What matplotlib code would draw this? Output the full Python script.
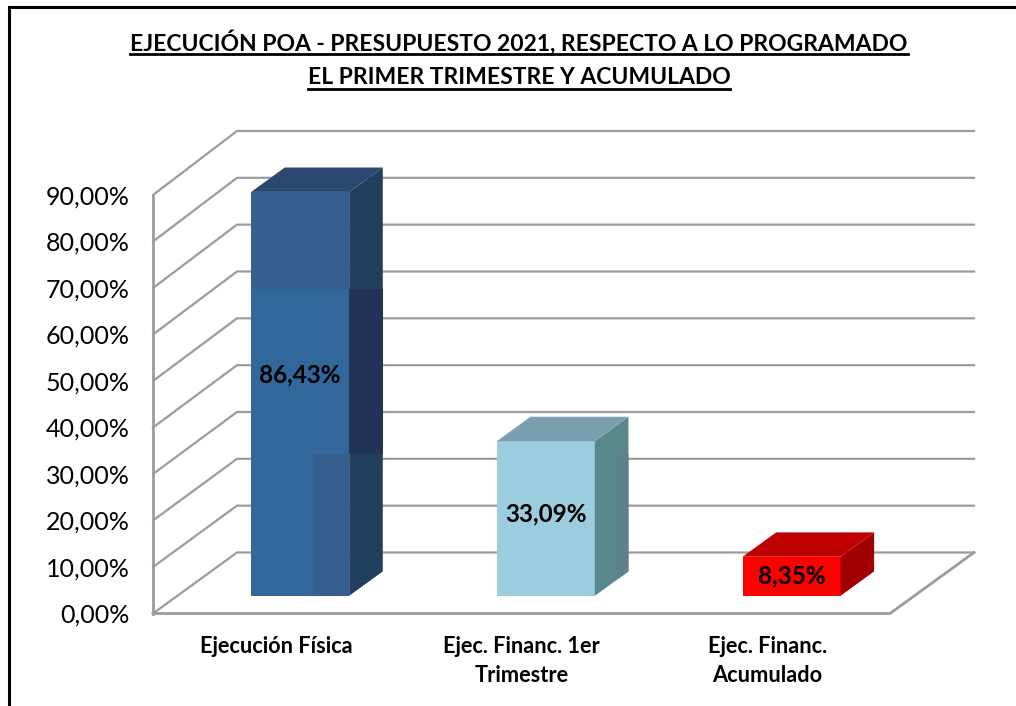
import matplotlib
matplotlib.use("Agg")
import matplotlib.pyplot as plt
from matplotlib.lines import Line2D
from matplotlib.patches import Polygon, Rectangle

plt.rcParams['font.family'] = ['Lato', 'DejaVu Sans']

categories = ["Ejecución Física", "Ejec. Financ. 1er\nTrimestre", "Ejec. Financ.\nAcumulado"]
values = [86.43, 33.09, 8.35]
value_labels = ["86,43%", "33,09%", "8,35%"]
grid_values = [0, 10, 20, 30, 40, 50, 60, 70, 80, 90]
tick_labels = ["0,00%", "10,00%", "20,00%", "30,00%", "40,00%", "50,00%", "60,00%", "70,00%", "80,00%", "90,00%"]
title_lines = ["EJECUCIÓN POA - PRESUPUESTO 2021, RESPECTO A LO PROGRAMADO",
               "EL PRIMER TRIMESTRE Y ACUMULADO"]

front_colors = ["#31679a", "#9bcddf", "#fe0000"]
top_colors = ["#2b4870", "#7a9fb0", "#bf0000"]
side_colors = ["#223f5e", "#58888c", "#a00000"]

# the bars have bands of a different shade in the picture
band_low = 30.4
band_high = 65.7
band_split = 0.63
upper_front = "#355f8f"
middle_side = "#233358"
second_side = "#5f808c"
second_side_top = 30.2
second_side_depth = 0.564

GRID = "#9c9c9c"
FIG_W, FIG_H = 1016, 706

# oblique projection of the depth axis, in data units
DX = 84 / 245.67
DY = 61 / 4.65
BAR_W = 98 / 245.67
D0, D1 = 0.29, 0.69
BACK_STRETCH = 1.0072
BAR_STRETCH = 1.005


def px_rect(x0, y_top, x1, y_bottom):
    return [x0 / FIG_W, 1 - y_bottom / FIG_H, (x1 - x0) / FIG_W, (y_bottom - y_top) / FIG_H]


def add_poly(ax, points, color, zorder=4):
    ax.add_patch(Polygon(points, fc=color, ec="none", zorder=zorder, clip_on=False))


def bar_y(y, depth):
    return y * BAR_STRETCH + depth * DY


fig = plt.figure(figsize=(FIG_W / 100, FIG_H / 100), dpi=100)
ax = fig.add_axes(px_rect(153, 195, 890, 613.5))
ax.set_xlim(0, 3)
ax.set_ylim(0, 90)
for spine in ax.spines.values():
    spine.set_visible(False)
ax.patch.set_visible(False)

# walls and floor
for g in grid_values:
    back = g * BACK_STRETCH + DY
    ax.plot([0, DX, 3 + DX], [g, back, back], color=GRID, lw=1.6, zorder=1, clip_on=False,
            solid_joinstyle="miter")
ax.plot([0, 0], [0, 90], color=GRID, lw=2, zorder=2, clip_on=False)
ax.plot([0, 3, 3 + DX], [0, 0, DY], color=GRID, lw=2, zorder=2, clip_on=False, solid_joinstyle="miter")

# bars
for i, v in enumerate(values):
    x0 = i + 0.5 - BAR_W / 2 + D0 * DX
    x1 = i + 0.5 + BAR_W / 2 + D0 * DX
    x2 = x1 + (D1 - D0) * DX
    front = upper_front if i == 0 else front_colors[i]
    add_poly(ax, [(x0, bar_y(0, D0)), (x1, bar_y(0, D0)), (x1, bar_y(v, D0)), (x0, bar_y(v, D0))], front)
    add_poly(ax, [(x1, bar_y(0, D0)), (x2, bar_y(0, D1)), (x2, bar_y(v, D1)), (x1, bar_y(v, D0))], side_colors[i])
    add_poly(ax, [(x0, bar_y(v, D0)), (x1, bar_y(v, D0)), (x2, bar_y(v, D1)), (x0 + x2 - x1, bar_y(v, D1))],
             top_colors[i])

# first bar bands, with flat edges across both faces
x0 = 0.5 - BAR_W / 2 + D0 * DX
x1 = 0.5 + BAR_W / 2 + D0 * DX
x2 = x1 + (D1 - D0) * DX
low = bar_y(band_low, D0)
high = bar_y(band_high, D0)
ax.add_patch(Rectangle((x0, low), x1 - x0, high - low, fc=front_colors[0], ec="none", zorder=4.5, clip_on=False))
ax.add_patch(Rectangle((x1, low), x2 - x1, high - low, fc=middle_side, ec="none", zorder=4.5, clip_on=False))
ax.add_patch(Rectangle((x0, bar_y(0, D0)), (x1 - x0) * band_split, low - bar_y(0, D0), fc=front_colors[0],
                       ec="none", zorder=4.5, clip_on=False))

# second bar, strip on the side face
x1 = 1.5 + BAR_W / 2 + D0 * DX
xa = x1 + (second_side_depth - D0) * DX
xb = x1 + (D1 - D0) * DX
add_poly(ax, [(xa, bar_y(0, second_side_depth)), (xb, bar_y(0, D1)), (xb, bar_y(second_side_top, D0)),
              (xa, bar_y(second_side_top, D0))], second_side, zorder=4.5)

label_y = [47.5, 17.6, 4.3]
for i, v in enumerate(values):
    ax.text(i + 0.5 + D0 * DX, label_y[i] + D0 * DY, value_labels[i], ha="center", va="center",
            fontsize=17.5, fontweight="bold", color="black", zorder=6)

ax.set_yticks(grid_values)
ax.set_yticklabels(tick_labels, fontsize=18, color="black")
ax.set_xticks([0.5, 1.5, 2.5])
ax.set_xticklabels(categories, fontsize=15.7, fontweight="bold", color="black", linespacing=1.42)
ax.tick_params(axis="y", length=0, pad=17)
ax.tick_params(axis="x", length=0, pad=16.5)

# black frame, open at the bottom and on the right
fig.add_artist(Line2D([8.5 / FIG_W, 8.5 / FIG_W, 1], [0, 1 - 6.5 / FIG_H, 1 - 6.5 / FIG_H],
                      color="black", lw=2.2, solid_joinstyle="miter"))

# title, underlined by hand since matplotlib has no underline
title_y = [42, 77]
fig.canvas.draw()
renderer = fig.canvas.get_renderer()
for line, y in zip(title_lines, title_y):
    t = fig.text(519 / FIG_W, 1 - y / FIG_H, line, ha="center", va="center", fontsize=16.5, fontweight="bold")
    box_px = t.get_window_extent(renderer)
    uy = 1 - (y + 11.5) / FIG_H
    fig.add_artist(Line2D([box_px.x0 / FIG_W, box_px.x1 / FIG_W], [uy, uy], color="black", lw=2))

fig.savefig("out.png", dpi=100)
